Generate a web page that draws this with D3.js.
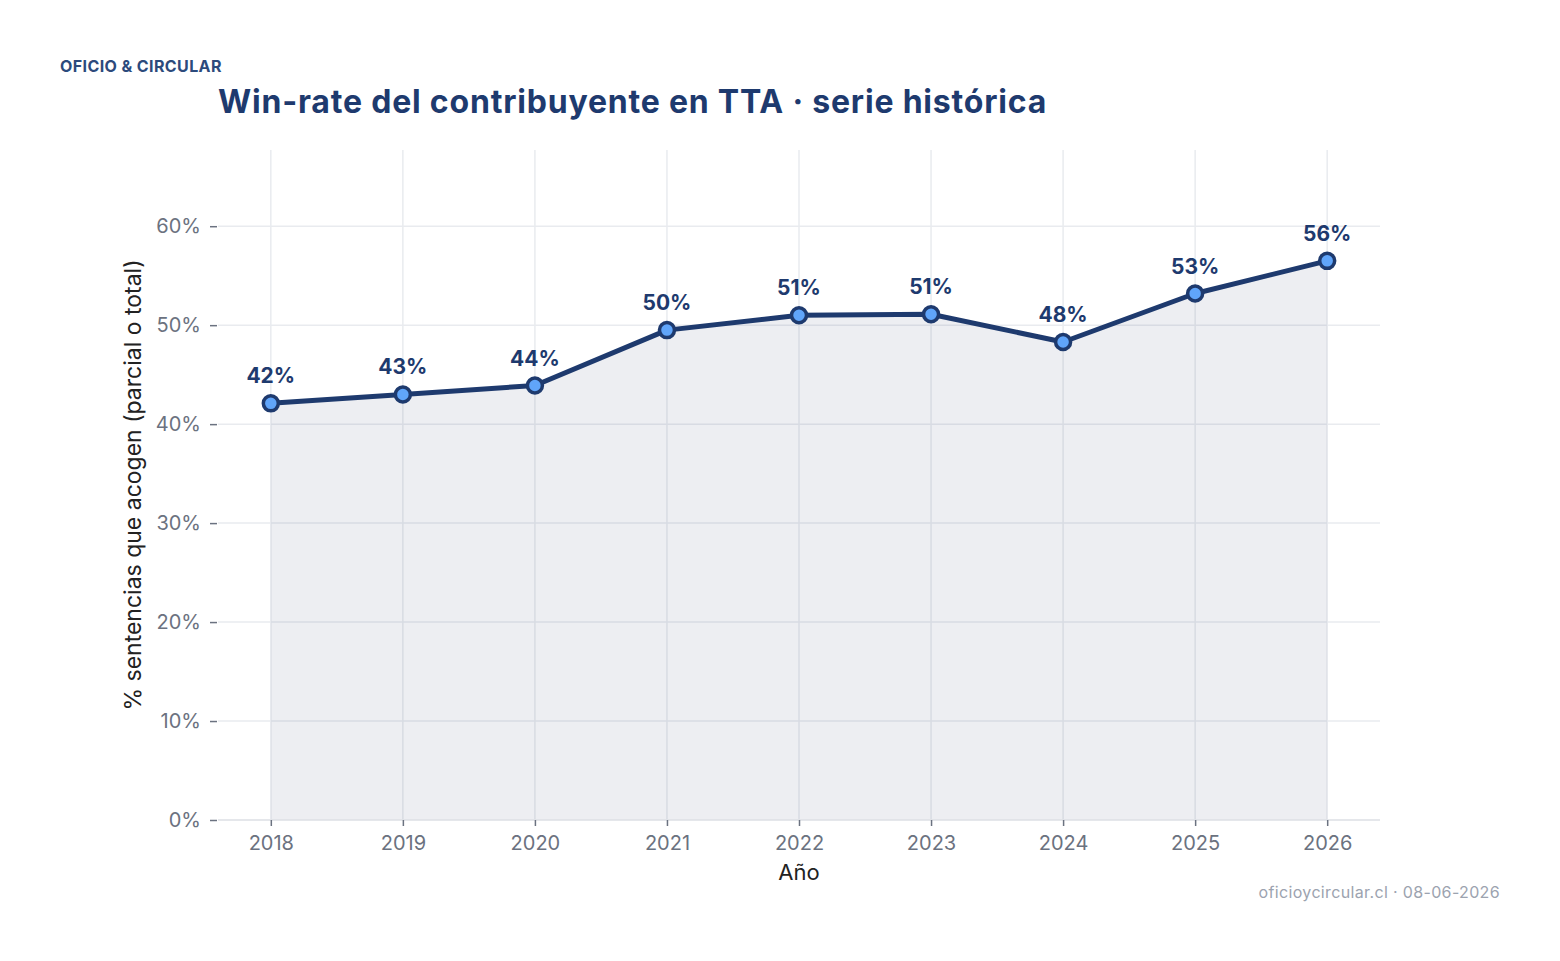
<!DOCTYPE html>
<html>
<head>
<meta charset="utf-8">
<script src="https://cdn.jsdelivr.net/npm/d3@7"></script>
<style>
  body { margin: 0; background: #fff; font-family: Inter, "Noto Sans", sans-serif; }
</style>
</head>
<body>
<script>
// Data
var years = ["2018", "2019", "2020", "2021", "2022", "2023", "2024", "2025", "2026"];
var winRate = [0.421, 0.430, 0.439, 0.495, 0.510, 0.511, 0.483, 0.532, 0.565];
var yTicks = [0, 0.1, 0.2, 0.3, 0.4, 0.5, 0.6];

var svgWidth = 1560;
var svgHeight = 961;

var chartMargin = { top: 150, right: 180, bottom: 141, left: 218 };
var chartWidth = svgWidth - chartMargin.left - chartMargin.right;
var chartHeight = svgHeight - chartMargin.top - chartMargin.bottom;

var navy = "#1e3a6e";

var svg = d3.select("body").append("svg")
  .attr("width", svgWidth)
  .attr("height", svgHeight);

var chartGroup = svg.append("g")
  .attr("transform", `translate(${chartMargin.left}, ${chartMargin.top})`);

var data = years.map(function(y, i) { return { year: y, value: winRate[i] }; });

// Scales
var xScale = d3.scalePoint()
  .domain(years)
  .range([0, chartWidth])
  .padding(0.4);

var yScale = d3.scaleLinear()
  .domain([0, 0.677])
  .range([chartHeight, 0]);

// Horizontal gridlines
chartGroup.append("g")
  .selectAll("line")
  .data(yTicks)
  .enter()
  .append("line")
  .attr("x1", 0)
  .attr("x2", chartWidth)
  .attr("y1", function(d) { return yScale(d); })
  .attr("y2", function(d) { return yScale(d); })
  .attr("stroke", "#e9ebef")
  .attr("stroke-width", 1.5);

// Vertical gridlines
chartGroup.append("g")
  .selectAll("line")
  .data(years)
  .enter()
  .append("line")
  .attr("x1", function(d) { return xScale(d); })
  .attr("x2", function(d) { return xScale(d); })
  .attr("y1", 0)
  .attr("y2", chartHeight)
  .attr("stroke", "#e9ebef")
  .attr("stroke-width", 1.5);

// Area under the line
var area = d3.area()
  .x(function(d) { return xScale(d.year); })
  .y0(yScale(0))
  .y1(function(d) { return yScale(d.value); });

chartGroup.append("path")
  .datum(data)
  .attr("d", area)
  .attr("fill", "#1e2a5a")
  .attr("fill-opacity", 0.08);

// x axis
var xAxis = d3.axisBottom(xScale).tickSize(6).tickPadding(10);
var gx = chartGroup.append("g")
  .attr("transform", "translate(0," + chartHeight + ")")
  .call(xAxis);
gx.select(".domain").attr("stroke", "#e2e4e9").attr("stroke-width", 1.5).attr("d", "M0,0H" + chartWidth);
gx.selectAll(".tick line").attr("stroke", "#6b7280").attr("stroke-width", 1.5);
gx.selectAll(".tick text")
  .attr("fill", "#6b7280")
  .style("font-family", "Inter")
  .style("font-size", "20px");

// y axis
var yAxis = d3.axisLeft(yScale)
  .tickValues(yTicks)
  .tickFormat(d3.format(".0%"))
  .tickSize(7)
  .tickPadding(9);
var gy = chartGroup.append("g")
  .attr("transform", "translate(-1,0)")
  .call(yAxis);
gy.select(".domain").remove();
gy.selectAll(".tick line").attr("stroke", "#6b7280").attr("stroke-width", 1.5);
gy.selectAll(".tick text")
  .attr("fill", "#6b7280")
  .style("font-family", "Inter")
  .style("font-size", "20px");

// Line
var line = d3.line()
  .x(function(d) { return xScale(d.year); })
  .y(function(d) { return yScale(d.value); });

chartGroup.append("path")
  .datum(data)
  .attr("d", line)
  .attr("fill", "none")
  .attr("stroke", navy)
  .attr("stroke-width", 5)
  .attr("stroke-linejoin", "round");

// Points
chartGroup.selectAll("circle")
  .data(data)
  .enter()
  .append("circle")
  .attr("cx", function(d) { return xScale(d.year); })
  .attr("cy", function(d) { return yScale(d.value); })
  .attr("r", 7.5)
  .attr("fill", "#60a5fa")
  .attr("stroke", navy)
  .attr("stroke-width", 3.5);

// Value labels
chartGroup.selectAll(".vlabel")
  .data(data)
  .enter()
  .append("text")
  .attr("class", "vlabel")
  .attr("x", function(d) { return xScale(d.year); })
  .attr("y", function(d) { return yScale(d.value) - 20; })
  .attr("text-anchor", "middle")
  .attr("fill", navy)
  .style("font-family", "Inter")
  .style("font-weight", 700)
  .style("font-size", "21px")
  .text(function(d) { return Math.round(d.value * 100) + "%"; });

// Axis titles
svg.append("text")
  .attr("x", chartMargin.left + xScale("2022"))
  .attr("y", 880)
  .attr("text-anchor", "middle")
  .attr("fill", "#222")
  .style("font-size", "22px")
  .text("Año");

svg.append("text")
  .attr("transform", "translate(141," + 485 + ") rotate(-90)")
  .attr("text-anchor", "middle")
  .attr("fill", "#222")
  .style("font-size", "23px")
  .text("% sentencias que acogen (parcial o total)");

// Headings
svg.append("text")
  .attr("x", 60)
  .attr("y", 72)
  .attr("fill", "#2c4a7c")
  .style("font-weight", 700)
  .style("font-size", "16px")
  .style("letter-spacing", "0.4px")
  .text("OFICIO & CIRCULAR");

svg.append("text")
  .attr("x", 218)
  .attr("y", 113)
  .attr("fill", navy)
  .style("font-weight", 700)
  .style("font-size", "32px")
  .style("letter-spacing", "0.8px")
  .text("Win-rate del contribuyente en TTA · serie histórica");

// Footer
svg.append("text")
  .attr("x", 1500)
  .attr("y", 898)
  .attr("text-anchor", "end")
  .attr("fill", "#9ca3af")
  .style("font-size", "16px")
  .style("letter-spacing", "0.35px")
  .text("oficioycircular.cl · 08-06-2026");
</script>
</body>
</html>
